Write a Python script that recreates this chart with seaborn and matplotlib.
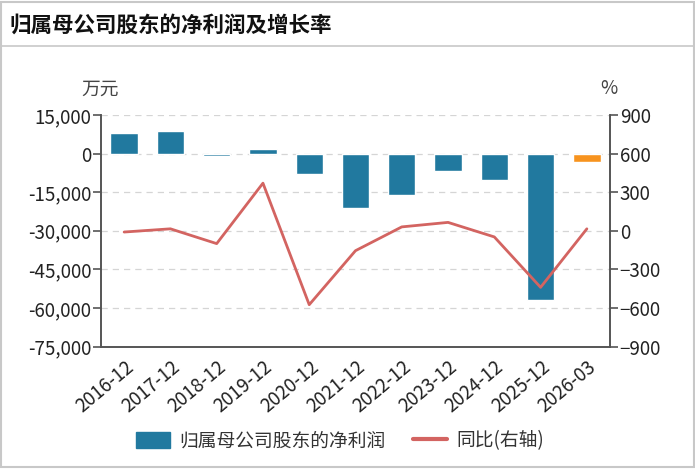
import matplotlib
matplotlib.use("Agg")
import matplotlib.pyplot as plt
import seaborn as sns
import pandas as pd
from matplotlib.patches import Patch, Rectangle
from matplotlib.lines import Line2D
from matplotlib.ticker import FuncFormatter

# datos
periodos = ["2016-12", "2017-12", "2018-12", "2019-12", "2020-12", "2021-12",
            "2022-12", "2023-12", "2024-12", "2025-12", "2026-03"]
beneficio = [8000, 8900, -800, 1700, -8000, -21000, -16200, -6800, -10400, -57100, -3400]
yoy = [-10, 15, -100, 370, -575, -155, 30, 65, -48, -440, 15]

izq_ticks = [15000, 0, -15000, -30000, -45000, -60000, -75000]
der_ticks = [900, 600, 300, 0, -300, -600, -900]

azul = "#21799f"
naranja = "#f7931e"
rojo = "#d36461"

sns.set_style("white")
plt.rcParams["font.family"] = ["Noto Sans CJK SC", "DejaVu Sans"]

df = pd.DataFrame({"periodo": periodos, "beneficio": beneficio, "yoy": yoy})
colores = [azul] * (len(periodos) - 1) + [naranja]

fig = plt.figure(figsize=(6.95, 4.69), dpi=100)
ax = fig.add_axes([101 / 695, 1 - 346.5 / 469, 509 / 695, 231.5 / 469])

sns.barplot(data=df, x="periodo", y="beneficio", hue="periodo", palette=colores,
            legend=False, width=0.59, saturation=1, ax=ax, zorder=3)
ax.set_ylim(-75000, 15000)
ax.set_yticks(izq_ticks)
ax.yaxis.set_major_formatter(FuncFormatter(lambda v, p: f"{int(v):,}"))
ax.grid(axis="y", color="#d5d5d5", linestyle=(0, (5, 4)), linewidth=0.9, zorder=0)
ax.set_axisbelow(True)
ax.set_xlabel("")
ax.set_ylabel("")

ax2 = ax.twinx()
sns.lineplot(x=list(range(len(periodos))), y=yoy, color=rojo, linewidth=2, ax=ax2)
ax2.set_ylim(-900, 900)
ax2.set_yticks(der_ticks)
ax.set_xlim(-0.5, len(periodos) - 0.5)

for a in (ax, ax2):
    a.spines["top"].set_visible(False)
    for s in ("left", "right", "bottom"):
        a.spines[s].set_color("#555555")
        a.spines[s].set_linewidth(1.2)
    a.tick_params(axis="y", length=6, width=1.2, color="#555555", labelsize=13.5,
                  labelcolor="#222222", pad=1)
ax.tick_params(axis="x", length=6, width=1.2, color="#555555", labelsize=13.5,
               labelcolor="#222222", pad=1)
plt.setp(ax.get_xticklabels(), rotation=40, ha="right", rotation_mode="anchor")

fig.text(100 / 695, 1 - 89 / 469, "万元", fontsize=13.5, color="#444444", ha="center", va="center")
fig.text(609 / 695, 1 - 89 / 469, "%", fontsize=13.5, color="#444444", ha="center", va="center")

# titulo y marco
fig.text(10 / 695, 1 - 25 / 469, "归属母公司股东的净利润及增长率", fontsize=15.5,
         fontweight="bold", color="#111111", ha="left", va="center")
fig.add_artist(Rectangle((0.002, 0.004), 0.996, 0.992, transform=fig.transFigure,
                         fill=False, edgecolor="#c8c8c8", linewidth=1.5))
fig.add_artist(Line2D([0.002, 0.998], [1 - 46 / 469] * 2, transform=fig.transFigure,
                      color="#c8c8c8", linewidth=1.2))

handles = [Patch(facecolor=azul, edgecolor=azul, label="归属母公司股东的净利润"),
           Line2D([0], [0], color=rojo, linewidth=3, label="同比(右轴)")]
fig.legend(handles=handles, loc="center", bbox_to_anchor=(340 / 695, 1 - 441 / 469),
           ncol=2, frameon=False, fontsize=13.5, handlelength=1.8, handleheight=0.9,
           columnspacing=1.5, handletextpad=0.5, labelcolor="#333333")

fig.savefig("out.png", dpi=100)
